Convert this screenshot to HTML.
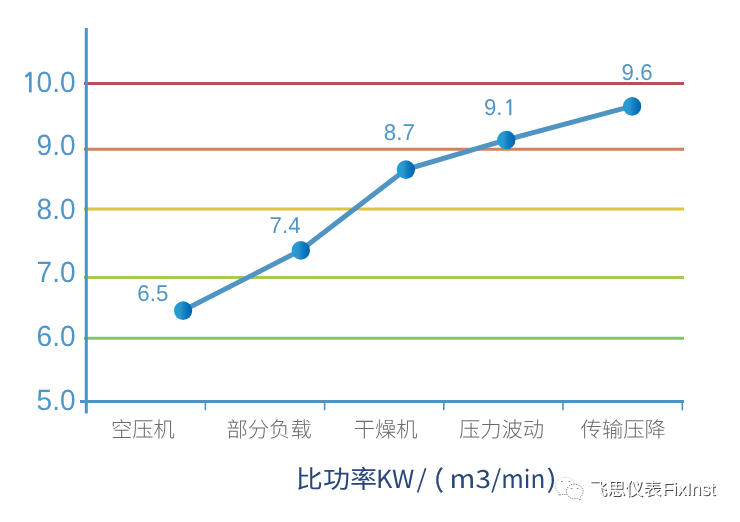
<!DOCTYPE html>
<html>
<head>
<meta charset="utf-8">
<style>
html,body{margin:0;padding:0;background:#ffffff;}
body{width:740px;height:522px;overflow:hidden;position:relative;}
svg{position:absolute;left:0;top:0;will-change:transform;text-rendering:geometricPrecision;}
.yl{font-family:"Liberation Sans",Arial,sans-serif;font-size:29.3px;fill:#4f96c8;}
.dl{font-family:"Liberation Sans",Arial,sans-serif;font-size:22.9px;fill:#5096c8;}
.xl{font-family:"Noto Sans CJK SC",sans-serif;font-weight:300;font-size:21.3px;fill:#6b6b6b;}
.tt{font-family:"Noto Sans CJK SC",sans-serif;font-size:25px;fill:#27477a;}
.wm{font-family:"Noto Sans CJK SC",sans-serif;font-size:18px;fill:#ffffff;}
.wms{font-family:"Noto Sans CJK SC",sans-serif;font-size:18px;fill:#4a4a4a;}
.wl{font-family:"Liberation Sans",sans-serif;font-size:18px;}
.one{font-family:"NanumGothic","Liberation Sans",sans-serif;stroke:#4f96c8;stroke-width:0.9px;font-size:26.6px;}
.one2{font-family:"NanumGothic","Liberation Sans",sans-serif;stroke:#5096c8;stroke-width:0.5px;font-size:21px;}
</style>
</head>
<body>
<svg width="740" height="522" viewBox="0 0 740 522">
<defs>
<linearGradient id="mg" x1="0" y1="0" x2="1" y2="0">
<stop offset="0" stop-color="#17a2da"/>
<stop offset="0.2" stop-color="#229dd5"/>
<stop offset="0.38" stop-color="#3391c8"/>
<stop offset="0.5" stop-color="#1587c6"/>
<stop offset="0.75" stop-color="#0672b9"/>
<stop offset="1" stop-color="#0062b0"/>
</linearGradient>
</defs>
<!-- gridlines -->
<g stroke-width="3" fill="none">
<line x1="84" y1="83.5" x2="684" y2="83.5" stroke="#ba4f55"/>
<line x1="84" y1="149.3" x2="684" y2="149.3" stroke="#d3805c"/>
<line x1="84" y1="209" x2="684" y2="209" stroke="#dcc540"/>
<line x1="84" y1="277.4" x2="684" y2="277.4" stroke="#a6c953"/>
<line x1="84" y1="338.2" x2="684" y2="338.2" stroke="#85c46c"/>
</g>
<!-- axes -->
<g stroke="#4c93c5" fill="none">
<line x1="86.3" y1="28" x2="86.3" y2="413.5" stroke-width="3"/>
<line x1="80" y1="401.6" x2="684" y2="401.6" stroke-width="3"/>
<g stroke-width="1.6">
<line x1="205.4" y1="401" x2="205.4" y2="410.3"/>
<line x1="324.6" y1="401" x2="324.6" y2="410.3"/>
<line x1="443.8" y1="401" x2="443.8" y2="410.3"/>
<line x1="563" y1="401" x2="563" y2="410.3"/>
<line x1="682.3" y1="401" x2="682.3" y2="410.3"/>
</g>
</g>
<!-- y labels -->
<g class="yl" text-anchor="end">
<text transform="translate(75.6,92) scale(0.957,1)"><tspan class="one">1</tspan><tspan dx="-0.6">0.0</tspan></text>
<text transform="translate(75.6,155.4) scale(0.957,1)">9.0</text>
<text transform="translate(75.6,219.2) scale(0.957,1)">8.0</text>
<text transform="translate(75.6,282) scale(0.957,1)">7.0</text>
<text transform="translate(75.6,346.1) scale(0.957,1)">6.0</text>
<text transform="translate(75.6,410.1) scale(0.957,1)">5.0</text>
</g>
<!-- data line -->
<polyline points="183.1,310.5 300.8,250.3 405.9,169.5 506.3,139.9 632.1,106.2" fill="none" stroke="#5094c4" stroke-width="5" stroke-linejoin="round"/>
<g fill="url(#mg)">
<ellipse cx="183.1" cy="310.6" rx="9.15" ry="9.35"/>
<ellipse cx="300.8" cy="250.4" rx="9.15" ry="9.35"/>
<ellipse cx="405.9" cy="169.6" rx="9.15" ry="9.35"/>
<ellipse cx="506.3" cy="140.0" rx="9.15" ry="9.35"/>
<ellipse cx="632.1" cy="106.3" rx="9.15" ry="9.35"/>
</g>
<!-- data labels -->
<g class="dl">
<text transform="translate(137.3,301.3) scale(0.975,1)">6.5</text>
<text transform="translate(269.6,232.8) scale(0.975,1)">7.4</text>
<text transform="translate(383.8,140.1) scale(0.975,1)">8.7</text>
<text transform="translate(483.9,115.1) scale(0.975,1)">9.<tspan class="one2" dx="1">1</tspan></text>
<text transform="translate(621.6,80.3) scale(0.975,1)">9.6</text>
</g>
<!-- x labels -->
<g class="xl" text-anchor="middle">
<text x="142.9" y="436.8">空压机</text>
<text x="269.1" y="436.8">部分负载</text>
<text x="385.7" y="436.8">干燥机</text>
<text x="501.5" y="436.8">压力波动</text>
<text x="623.2" y="436.8">传输压降</text>
</g>
<!-- title -->
<g class="tt">
<text transform="translate(295.84,488.3) scale(1.082,1)">比功率</text>
<text transform="translate(375.97,488.3) scale(1.014,1)">KW</text>
<text transform="translate(416.6,488.3) scale(1.056,1)">/</text>
<text transform="translate(420.13,490.2) scale(0.933,1.05)" stroke="#27477a" stroke-width="0.5">（</text>
<text transform="translate(449.57,488.3) scale(1.115,1)">m3</text>
<text transform="translate(491.1,488.3) scale(1.044,1)">/</text>
<text transform="translate(501.25,488.3) scale(0.973,1)">min</text>
<text transform="translate(546.58,488.3) scale(1.22,1)">)</text>
</g>
<!-- watermark -->
<linearGradient id="bs" x1="0" y1="0" x2="0" y2="1">
<stop offset="0" stop-color="#d0d0d0"/><stop offset="0.5" stop-color="#aaaaaa"/><stop offset="1" stop-color="#555555"/>
</linearGradient>
<path fill="#fff" stroke="url(#bs)" stroke-width="0.8" stroke-dasharray="1.3 1.1" d="M565.3,477.3 C559.8,477.3 555.4,481 555.4,485.8 C555.4,488.6 556.9,491 559.3,492.6 L558.9,495.5 L561.8,494.1 C563,494.4 564.2,494.4 565.3,494.4 C570.8,494.4 575.2,490.6 575.2,485.8 C575.2,481 570.8,477.3 565.3,477.3 Z"/>
<path fill="#fff" stroke="#6a6a6a" stroke-width="0.8" stroke-dasharray="1.3 1.1" d="M574.6,484.2 C570,484.2 566.4,487.4 566.4,491.4 C566.4,495.5 570,498.9 574.6,498.9 C575.6,498.9 576.6,498.7 577.5,498.4 L580.4,500.4 L580,497.5 C582,496 583.1,493.8 583.1,491.4 C583.1,487.4 579.3,484.2 574.6,484.2 Z"/>
<g fill="none" stroke="#555" stroke-width="0.8">
<path d="M560.9,482.1 L561.8,481.2 L562.7,482.1"/><path d="M568.5,482.1 L569.4,481.2 L570.3,482.1"/>
<path d="M570.8,489 L571.6,488.2 L572.4,489"/><path d="M576.8,489 L577.6,488.2 L578.4,489"/>
</g>
<text class="wms" x="590.2" y="496.4"><tspan>飞思仪表</tspan><tspan class="wl" dx="1">FixInst</tspan></text>
<text class="wm" x="589.2" y="495.4"><tspan>飞思仪表</tspan><tspan class="wl" dx="1">FixInst</tspan></text>
</svg>
</body>
</html>
